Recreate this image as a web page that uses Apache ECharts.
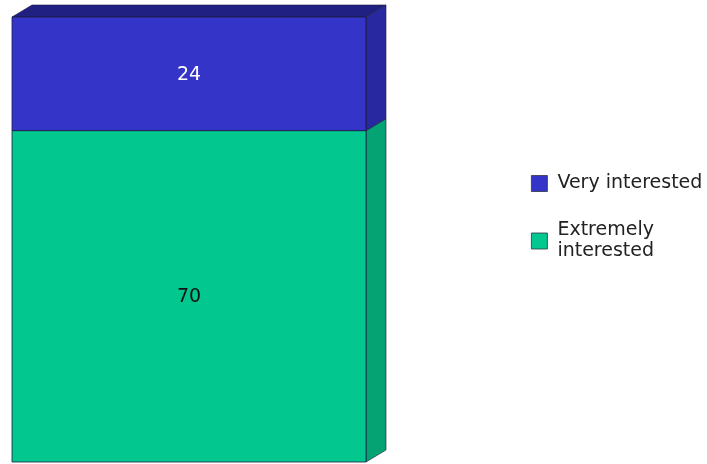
<!DOCTYPE html>
<html>
<head>
<meta charset="utf-8">
<script src="https://cdn.jsdelivr.net/npm/echarts@6/dist/echarts.min.js"></script>
<style>
  html, body { margin: 0; padding: 0; background: #ffffff; }
  #chart { width: 707px; height: 464px; }
</style>
</head>
<body>
<div id="chart"></div>
<script>
// Stacked segments, bottom to top
const categories = ['Total'];
const seriesNames = ['Extremely interested', 'Very interested'];
const seriesValues = [70, 24];
const legendOrder = ['Very interested', 'Extremely interested'];

// Face colours per segment: front, side, top
const faceColors = [
  { front: '#02C88F', side: '#05A274', top: '#05A274', text: '#111111' },
  { front: '#3434C8', side: '#2828A0', top: '#202082', text: '#ffffff' }
];
const depthX = 20, depthY = 12;
const total = seriesValues.reduce((a, b) => a + b, 0);
const labelFont = '19px "DejaVu Sans", Verdana, sans-serif';

function makeRender(idx) {
  return function (params, api) {
    let base = 0;
    for (let k = 0; k < idx; k++) base += seriesValues[k];
    const top = base + seriesValues[idx];
    const pb = api.coord([api.value(0), base]);
    const pt = api.coord([api.value(0), top]);
    const bw = api.size([1, 0])[0];
    const x0 = pb[0] - bw / 2, x1 = x0 + bw;
    const yb = pb[1], yt = pt[1];
    const c = faceColors[idx];
    const children = [
      {
        type: 'polygon',
        shape: { points: [[x1, yb], [x1 + depthX, yb - depthY], [x1 + depthX, yt - depthY], [x1, yt]] },
        style: { fill: c.side, stroke: '#1b1b40', lineWidth: 0.6 }
      },
      {
        type: 'rect',
        shape: { x: x0, y: yt, width: bw, height: yb - yt },
        style: { fill: c.front, stroke: '#1b1b40', lineWidth: 0.8 }
      },
      {
        type: 'text',
        style: {
          text: String(seriesValues[idx]),
          x: (x0 + x1) / 2, y: (yt + yb) / 2 + 1,
          align: 'center', verticalAlign: 'middle',
          fill: c.text, font: labelFont
        }
      }
    ];
    if (idx === seriesValues.length - 1) {
      children.unshift({
        type: 'polygon',
        shape: { points: [[x0, yt], [x0 + depthX, yt - depthY], [x1 + depthX, yt - depthY], [x1, yt]] },
        style: { fill: c.top, stroke: '#1b1b40', lineWidth: 0.6 }
      });
    }
    return { type: 'group', children: children };
  };
}

const chart = echarts.init(document.getElementById('chart'));
chart.setOption({
  animation: false,
  backgroundColor: '#ffffff',
  grid: { left: 12, right: 341, top: 17, bottom: 2 },
  xAxis: { type: 'category', data: categories, show: false },
  yAxis: { type: 'value', min: 0, max: total, show: false },
  legend: {
    orient: 'vertical',
    left: 526,
    top: 168,
    itemGap: 26,
    itemWidth: 16,
    itemHeight: 16,
    icon: 'rect',
    data: legendOrder,
    formatter: function (name) {
      return name === 'Extremely interested' ? 'Extremely\ninterested' : name;
    },
    itemStyle: { borderColor: '#333344', borderWidth: 0.8 },
    textStyle: {
      fontFamily: '"DejaVu Sans", Verdana, sans-serif',
      fontSize: 19,
      lineHeight: 21,
      color: '#222222',
      padding: [0, 0, 0, 5]
    }
  },
  series: seriesNames.map(function (name, i) {
    return {
      type: 'custom',
      name: name,
      itemStyle: { color: faceColors[i].front },
      data: categories.map(function (c, j) { return [j, seriesValues[i]]; }),
      renderItem: makeRender(i)
    };
  })
});
</script>
</body>
</html>
